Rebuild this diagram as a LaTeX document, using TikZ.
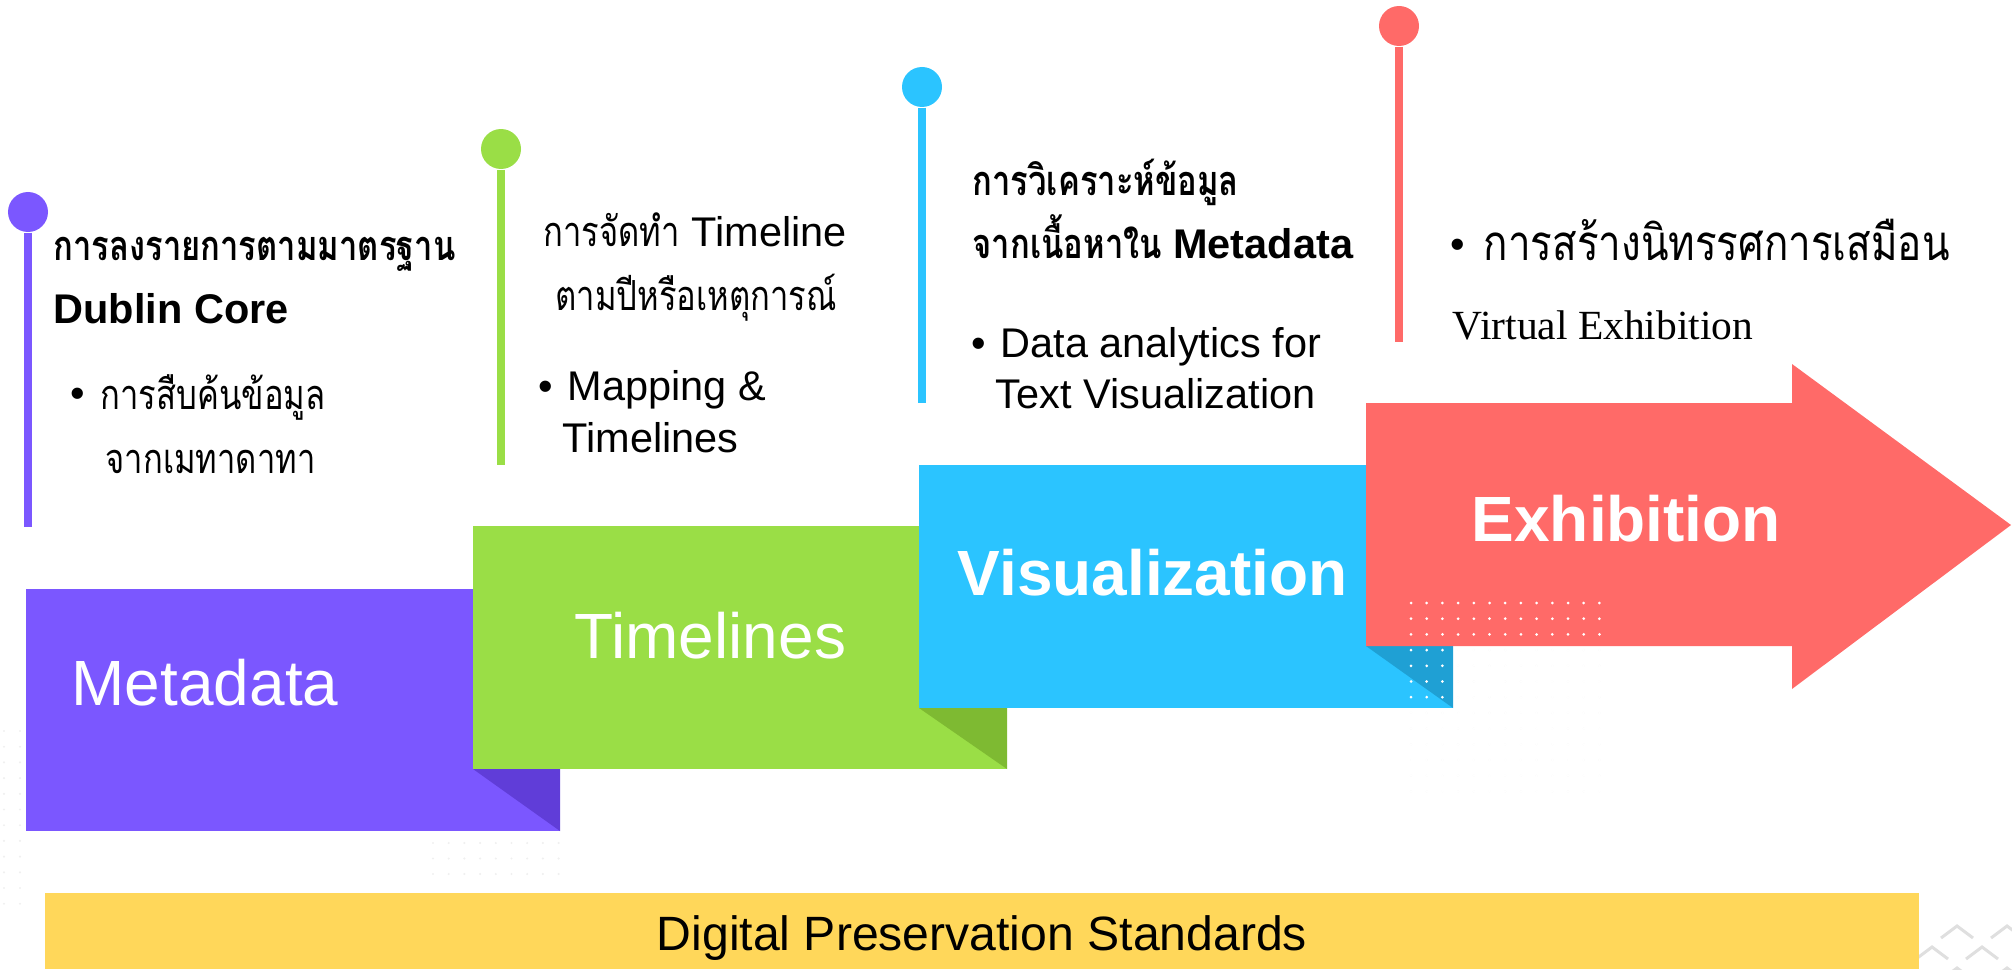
\documentclass[tikz,border=0pt]{standalone}
\usepackage{fontspec}
\setmainfont{Liberation Sans}
\newfontfamily\thaifont[Script=Thai,FakeStretch=0.79]{Loma}
\newfontfamily\thaiwide[Script=Thai,FakeStretch=0.82]{Loma}
\newfontfamily\timesfont{Liberation Serif}
\usepackage{xcolor}
\usepackage{tikz}
\definecolor{purp}{HTML}{7B57FF}
\definecolor{purpdk}{HTML}{603DD8}
\definecolor{grn}{HTML}{9ADE46}
\definecolor{grndk}{HTML}{7EBA32}
\definecolor{sky}{HTML}{2BC4FF}
\definecolor{skydk}{HTML}{1FA0D4}
\definecolor{coral}{HTML}{FF6A68}
\definecolor{sun}{HTML}{FFD75A}
\tikzset{
  stalk/.style={line width=0.8mm},
  knob/.style={circle,inner sep=0pt,minimum size=4mm},
  txt/.style={inner sep=0pt,anchor=base west,font=\fontsize{11.8}{14}\selectfont},
  thai/.style={txt,font=\thaifont\fontsize{11.8}{14}\selectfont},
  thaibf/.style={txt,font=\thaifont\bfseries\fontsize{11.8}{14}\selectfont},
  boxlbl/.style={inner sep=0pt,anchor=base west,text=white,font=\fontsize{18.2}{22}\selectfont},
  gdot/.style={fill=gray!12},
  wdot/.style={fill=white},
  chev/.style={gray!25,line width=0.3mm}
}

\begin{document}
\begin{tikzpicture}
\useasboundingbox (0,0) rectangle (20.12,9.69);
% faint dot grids and chevrons behind
\foreach \i in {0,...,11} {\fill[gdot] (0.04,2.38-0.157*\i) circle (0.012); \fill[gdot] (0.20,2.38-0.157*\i) circle (0.012);}
\foreach \i in {0,...,8} \foreach \j in {0,1,2} \fill[gdot] (4.33+0.157*\i,1.26-0.155*\j) circle (0.012);
\foreach \i in {0,...,12} \foreach \j in {0,...,12} \fill[gdot] (14.11+0.157*\i,3.66-0.157*\j) circle (0.012);
\foreach \x/\y in {19.57/0.43,20.07/0.43,19.32/0.22,19.82/0.22,19.57/0.01,20.07/0.01}
  \draw[chev] (\x-0.16,\y-0.12) -- (\x,\y) -- (\x+0.16,\y-0.12);
% steps
\fill[purp] (0.26,1.38) rectangle (5.60,3.80);
\fill[purpdk] (4.73,2.00) -- (5.60,2.00) -- (5.60,1.38) -- cycle;
\fill[grn] (4.73,2.00) rectangle (10.07,4.43);
\fill[grndk] (9.19,2.61) -- (10.07,2.61) -- (10.07,2.00) -- cycle;
\fill[sky] (9.19,2.61) rectangle (14.53,5.04);
\fill[skydk] (13.66,3.23) -- (14.53,3.23) -- (14.53,2.61) -- cycle;
\fill[coral] (13.66,3.23) -- (17.92,3.23) -- (17.92,2.80) -- (20.11,4.44) -- (17.92,6.05) -- (17.92,5.66) -- (13.66,5.66) -- cycle;
\foreach \i in {0,...,12} \foreach \j in {0,...,12} \fill[wdot] (14.11+0.157*\i,3.66-0.157*\j) circle (0.015);
\fill[sun] (0.45,0) rectangle (19.19,0.76);
% step labels
\node[boxlbl] (lmeta) at (0.71,2.64) {Metadata};
\node[boxlbl] (ltime) at (5.74,3.11) {Timelines};
\node[boxlbl,font=\bfseries\fontsize{18.2}{22}\selectfont] (lvis) at (9.57,3.74) {Visualization};
\node[boxlbl,font=\bfseries\fontsize{18.2}{22}\selectfont] (lexh) at (14.71,4.28) {Exhibition};
\node[inner sep=0pt,anchor=base,font=\fontsize{13.7}{16}\selectfont] (std) at (9.82,0.19) {Digital Preservation Standards};
% pins
\node[knob,fill=purp] (k1) at (0.28,7.57) {}; \coordinate (e1) at (0.28,4.42);
\node[knob,fill=grn] (k2) at (5.01,8.20) {}; \coordinate (e2) at (5.01,5.04);
\node[knob,fill=sky] (k3) at (9.22,8.82) {}; \coordinate (e3) at (9.22,5.66);
\node[knob,fill=coral] (k4) at (13.99,9.43) {}; \coordinate (e4) at (13.99,6.27);
\draw[stalk,purp] (k1) -- (e1);
\draw[stalk,grn] (k2) -- (e2);
\draw[stalk,sky] (k3) -- (e3);
\draw[stalk,coral] (k4) -- (e4);
% metadata notes
\node[thaibf] (m1) at (0.53,7.09) {การลงรายการตามมาตรฐาน};
\node[txt,font=\bfseries\fontsize{11.8}{14}\selectfont] (m2) at (0.53,6.46) {Dublin Core};
\node[txt] (mb) at (0.70,5.62) {•};
\node[thai] (m3) at (1.00,5.60) {การสืบค้นข้อมูล};
\node[thai] (m4) at (1.05,4.96) {จากเมทาดาทา};
% timeline notes
\node[txt] (t1) at (5.43,7.23) {{\thaifont การจัดทำ} Timeline};
\node[thai] (t2) at (5.55,6.59) {ตามปีหรือเหตุการณ์};
\node[txt] (tb) at (5.38,5.69) {•};
\node[txt] (t3) at (5.67,5.69) {Mapping \&};
\node[txt] (t4) at (5.62,5.17) {Timelines};
% visualization notes
\node[thaibf] (v1) at (9.72,7.74) {การวิเคราะห์ข้อมูล};
\node[txt] (v2) at (9.72,7.10) {{\thaifont\bfseries จากเนื้อหาใน} \textbf{Metadata}};
\node[txt] (vb) at (9.71,6.12) {•};
\node[txt] (v3) at (10.00,6.12) {Data analytics for};
\node[txt] (v4) at (9.95,5.61) {Text Visualization};
% exhibition notes
\node[txt,font=\fontsize{11.8}{14}\selectfont] (xb) at (14.50,7.11) {•};
\node[txt,font=\thaiwide\fontsize{14}{16}\selectfont] (x1) at (14.83,7.09) {การสร้างนิทรรศการเสมือน};
\node[txt,font=\timesfont\fontsize{11.8}{14}\selectfont] (x2) at (14.52,6.30) {Virtual Exhibition};
\end{tikzpicture}
\end{document}
